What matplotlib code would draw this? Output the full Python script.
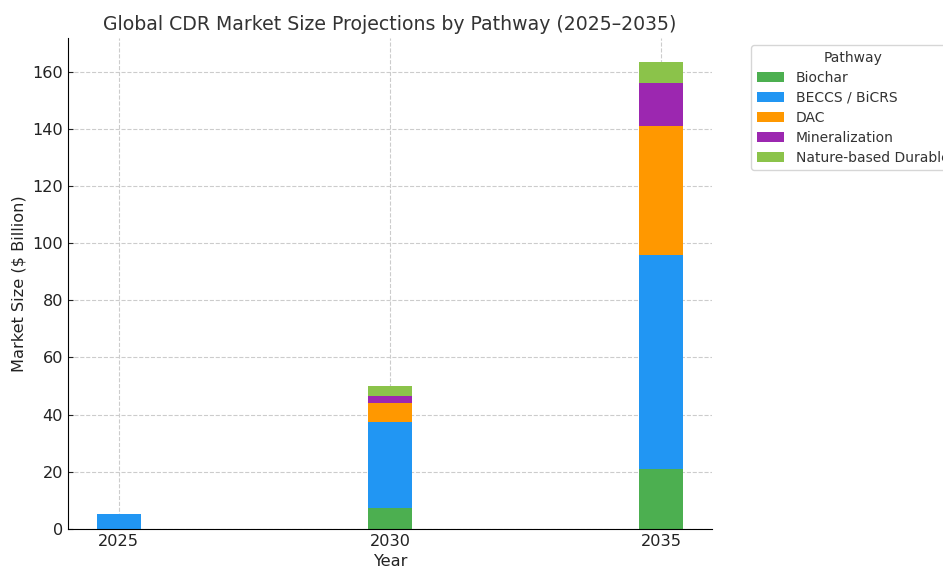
import matplotlib
matplotlib.use("Agg")
import matplotlib.pyplot as plt
import numpy as np

plt.rcParams["font.family"] = ["DejaVu Sans"]

years = [2025, 2030, 2035]
pathways = ["Biochar", "BECCS / BiCRS", "DAC", "Mineralization", "Nature-based Durable"]
biochar = [0.0, 7.5, 21.0]
beccs = [5.3, 30.0, 75.0]
dac = [0.0, 6.5, 45.0]
mineralization = [0.0, 2.5, 15.0]
nature = [0.0, 3.5, 7.5]
colors = ["#4CAF50", "#2196F3", "#FF9800", "#9C27B0", "#8BC34A"]

series = [biochar, beccs, dac, mineralization, nature]

fig = plt.figure(figsize=(9.43, 5.68), dpi=100)
ax = fig.add_axes([0.072, 0.0687, 0.683, 0.864])
text_color = "#333333"

bottom = np.zeros(len(years))
for name, vals, c in zip(pathways, series, colors):
    ax.bar(years, vals, width=0.8, bottom=bottom, color=c, label=name, zorder=2)
    bottom += np.array(vals)

ax.set_xticks(years)
ax.set_xticklabels([str(y) for y in years])
ax.tick_params(labelsize=11.6, colors="#222222", direction="in", length=3.5)
ax.set_title("Global CDR Market Size Projections by Pathway (2025–2035)", fontsize=13.6, color=text_color)
ax.set_xlabel("Year", fontsize=11.6, color="#222222", labelpad=4)
ax.set_ylabel("Market Size ($ Billion)", fontsize=11.6, color="#222222")
ax.grid(True, linestyle="--", color="#cccccc", linewidth=0.8, zorder=0)
ax.set_axisbelow(True)
ax.spines["top"].set_visible(False)
ax.spines["right"].set_visible(False)

leg = ax.legend(title="Pathway", bbox_to_anchor=(1.05, 1), loc="upper left",
                fontsize=10, title_fontsize=10, labelspacing=0.43)
for t in leg.get_texts():
    t.set_color(text_color)
leg.get_title().set_color(text_color)

fig.savefig("out.png", dpi=100)
